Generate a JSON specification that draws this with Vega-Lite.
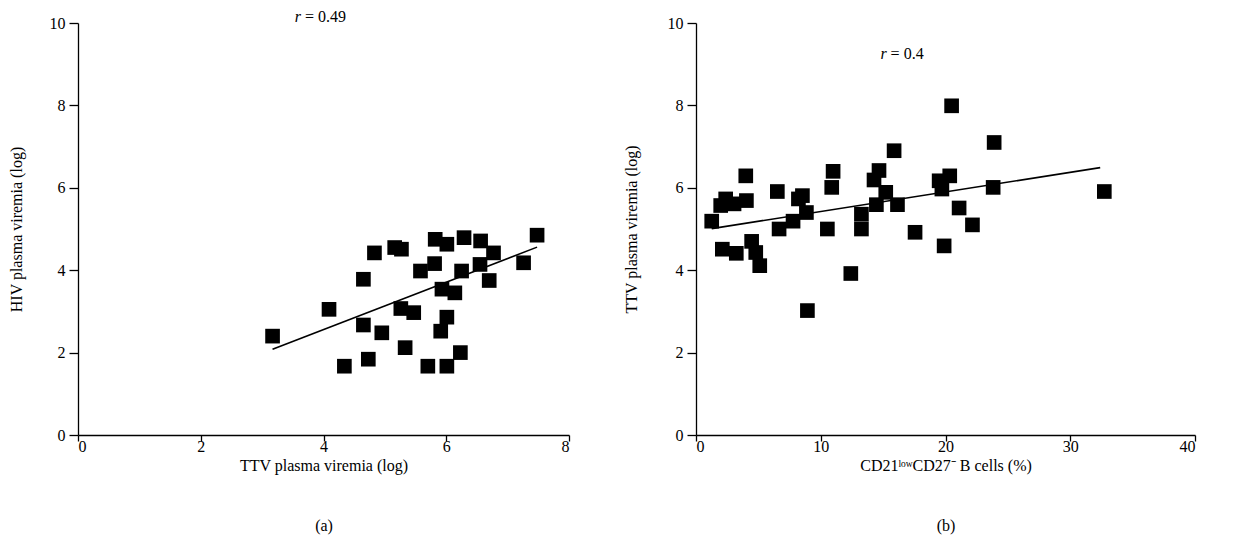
{
  "$schema": "https://vega.github.io/schema/vega-lite/v6.json",
  "background": "white",
  "padding": {"left": 8, "top": 8, "right": 5, "bottom": 5},
  "bounds": "flush",
  "spacing": 127,
  "config": {
    "font": "Liberation Serif",
    "view": {"stroke": null},
    "axis": {
      "grid": false,
      "domainColor": "black",
      "tickColor": "black",
      "labelColor": "black",
      "titleColor": "black",
      "labelFont": "Liberation Serif",
      "titleFont": "Liberation Serif",
      "labelFontSize": 16,
      "titleFontSize": 16,
      "titleFontWeight": "normal",
      "tickSize": 9,
      "domainWidth": 1.3,
      "tickWidth": 1.3,
      "labelPadding": 4
    },
    "axisX": {"tickSize": 6, "labelPadding": -3, "titlePadding": 3, "titleLineHeight": 60, "format": "d"}
  },
  "datasets": {
    "a_pts": [
      {"ttv": 3.17, "hiv": 2.40}, {"ttv": 4.09, "hiv": 3.05}, {"ttv": 4.83, "hiv": 4.42}, {"ttv": 5.16, "hiv": 4.55},
      {"ttv": 5.27, "hiv": 4.51}, {"ttv": 4.65, "hiv": 3.78}, {"ttv": 5.26, "hiv": 3.07}, {"ttv": 4.65, "hiv": 2.67},
      {"ttv": 4.95, "hiv": 2.48}, {"ttv": 4.73, "hiv": 1.84}, {"ttv": 4.34, "hiv": 1.67}, {"ttv": 5.33, "hiv": 2.12},
      {"ttv": 5.82, "hiv": 4.75}, {"ttv": 6.01, "hiv": 4.63}, {"ttv": 6.29, "hiv": 4.79}, {"ttv": 6.56, "hiv": 4.71},
      {"ttv": 6.77, "hiv": 4.42}, {"ttv": 7.48, "hiv": 4.85}, {"ttv": 5.58, "hiv": 3.98}, {"ttv": 5.81, "hiv": 4.16},
      {"ttv": 6.25, "hiv": 3.98}, {"ttv": 6.55, "hiv": 4.14}, {"ttv": 6.70, "hiv": 3.75}, {"ttv": 7.26, "hiv": 4.18},
      {"ttv": 5.93, "hiv": 3.54}, {"ttv": 6.14, "hiv": 3.45}, {"ttv": 5.47, "hiv": 2.97}, {"ttv": 6.01, "hiv": 2.86},
      {"ttv": 5.91, "hiv": 2.52}, {"ttv": 5.70, "hiv": 1.67}, {"ttv": 6.01, "hiv": 1.67}, {"ttv": 6.23, "hiv": 2.00}
    ],
    "a_fit": [{"ttv": 3.17, "hiv": 2.08}, {"ttv": 7.48, "hiv": 4.56}],
    "a_lab": [{"ttv": 3.7, "hiv": 10.15, "r": "r", "rest": "= 0.49"}],
    "b_pts": [
      {"cd": 1.26, "ttv": 5.19}, {"cd": 1.98, "ttv": 5.57}, {"cd": 2.38, "ttv": 5.73}, {"cd": 3.05, "ttv": 5.61},
      {"cd": 4.04, "ttv": 5.69}, {"cd": 3.99, "ttv": 6.29}, {"cd": 2.11, "ttv": 4.51}, {"cd": 3.23, "ttv": 4.41},
      {"cd": 4.46, "ttv": 4.70}, {"cd": 4.79, "ttv": 4.43}, {"cd": 5.11, "ttv": 4.11}, {"cd": 6.52, "ttv": 5.91},
      {"cd": 6.66, "ttv": 5.00}, {"cd": 7.78, "ttv": 5.19}, {"cd": 8.21, "ttv": 5.73}, {"cd": 8.53, "ttv": 5.81},
      {"cd": 8.85, "ttv": 5.40}, {"cd": 8.93, "ttv": 3.02}, {"cd": 10.53, "ttv": 5.00}, {"cd": 10.88, "ttv": 6.01},
      {"cd": 10.99, "ttv": 6.40}, {"cd": 15.88, "ttv": 6.90}, {"cd": 14.67, "ttv": 6.42}, {"cd": 14.27, "ttv": 6.19},
      {"cd": 15.21, "ttv": 5.89}, {"cd": 14.46, "ttv": 5.59}, {"cd": 16.15, "ttv": 5.59}, {"cd": 13.26, "ttv": 5.36},
      {"cd": 13.26, "ttv": 5.00}, {"cd": 17.56, "ttv": 4.92}, {"cd": 19.89, "ttv": 4.59}, {"cd": 12.41, "ttv": 3.92},
      {"cd": 19.49, "ttv": 6.17}, {"cd": 20.34, "ttv": 6.29}, {"cd": 19.71, "ttv": 5.97}, {"cd": 21.09, "ttv": 5.51},
      {"cd": 22.16, "ttv": 5.10}, {"cd": 23.90, "ttv": 7.10}, {"cd": 23.82, "ttv": 6.01}, {"cd": 32.73, "ttv": 5.91},
      {"cd": 20.49, "ttv": 7.99}
    ],
    "b_fit": [{"cd": 1.26, "ttv": 5.01}, {"cd": 32.4, "ttv": 6.49}],
    "b_lab": [{"cd": 15.6, "ttv": 9.25, "r": "r", "rest": "= 0.4"}]
  },
  "hconcat": [
    {
      "width": 491,
      "height": 412,
      "layer": [
        {
          "data": {"name": "a_pts"},
          "mark": {"type": "square", "size": 215, "color": "black", "opacity": 1},
          "encoding": {
            "x": {"field": "ttv", "type": "quantitative", "scale": {"domain": [0, 8], "nice": false},
                  "axis": {"values": [0, 2, 4, 6, 8], "title": ["TTV plasma viremia (log)", "(a)"]}},
            "y": {"field": "hiv", "type": "quantitative", "scale": {"domain": [0, 10], "nice": false},
                  "axis": {"values": [0, 2, 4, 6, 8, 10], "title": "HIV plasma viremia  (log)", "titlePadding": 25}}
          }
        },
        {
          "data": {"name": "a_fit"},
          "mark": {"type": "line", "color": "black", "strokeWidth": 1.6},
          "encoding": {
            "x": {"field": "ttv", "type": "quantitative"},
            "y": {"field": "hiv", "type": "quantitative"}
          }
        },
        {
          "data": {"name": "a_lab"},
          "mark": {"type": "text", "font": "Liberation Serif", "fontSize": 16, "fontStyle": "italic", "align": "right", "baseline": "middle", "dx": -4},
          "encoding": {
            "x": {"field": "ttv", "type": "quantitative"},
            "y": {"field": "hiv", "type": "quantitative"},
            "text": {"field": "r"}
          }
        },
        {
          "data": {"name": "a_lab"},
          "mark": {"type": "text", "font": "Liberation Serif", "fontSize": 16, "align": "left", "baseline": "middle"},
          "encoding": {
            "x": {"field": "ttv", "type": "quantitative"},
            "y": {"field": "hiv", "type": "quantitative"},
            "text": {"field": "rest"}
          }
        }
      ]
    },
    {
      "width": 499,
      "height": 412,
      "layer": [
        {
          "data": {"name": "b_pts"},
          "mark": {"type": "square", "size": 215, "color": "black", "opacity": 1},
          "encoding": {
            "x": {"field": "cd", "type": "quantitative", "scale": {"domain": [0, 40], "nice": false},
                  "axis": {"values": [0, 10, 20, 30, 40], "title": ["CD21ˡᵒʷCD27⁻ B cells (%)", "(b)"]}},
            "y": {"field": "ttv", "type": "quantitative", "scale": {"domain": [0, 10], "nice": false},
                  "axis": {"values": [0, 2, 4, 6, 8, 10], "title": "TTV plasma viremia (log)", "titlePadding": 28}}
          }
        },
        {
          "data": {"name": "b_fit"},
          "mark": {"type": "line", "color": "black", "strokeWidth": 1.6},
          "encoding": {
            "x": {"field": "cd", "type": "quantitative"},
            "y": {"field": "ttv", "type": "quantitative"}
          }
        },
        {
          "data": {"name": "b_lab"},
          "mark": {"type": "text", "font": "Liberation Serif", "fontSize": 16, "fontStyle": "italic", "align": "right", "baseline": "middle", "dx": -4},
          "encoding": {
            "x": {"field": "cd", "type": "quantitative"},
            "y": {"field": "ttv", "type": "quantitative"},
            "text": {"field": "r"}
          }
        },
        {
          "data": {"name": "b_lab"},
          "mark": {"type": "text", "font": "Liberation Serif", "fontSize": 16, "align": "left", "baseline": "middle"},
          "encoding": {
            "x": {"field": "cd", "type": "quantitative"},
            "y": {"field": "ttv", "type": "quantitative"},
            "text": {"field": "rest"}
          }
        }
      ]
    }
  ]
}
